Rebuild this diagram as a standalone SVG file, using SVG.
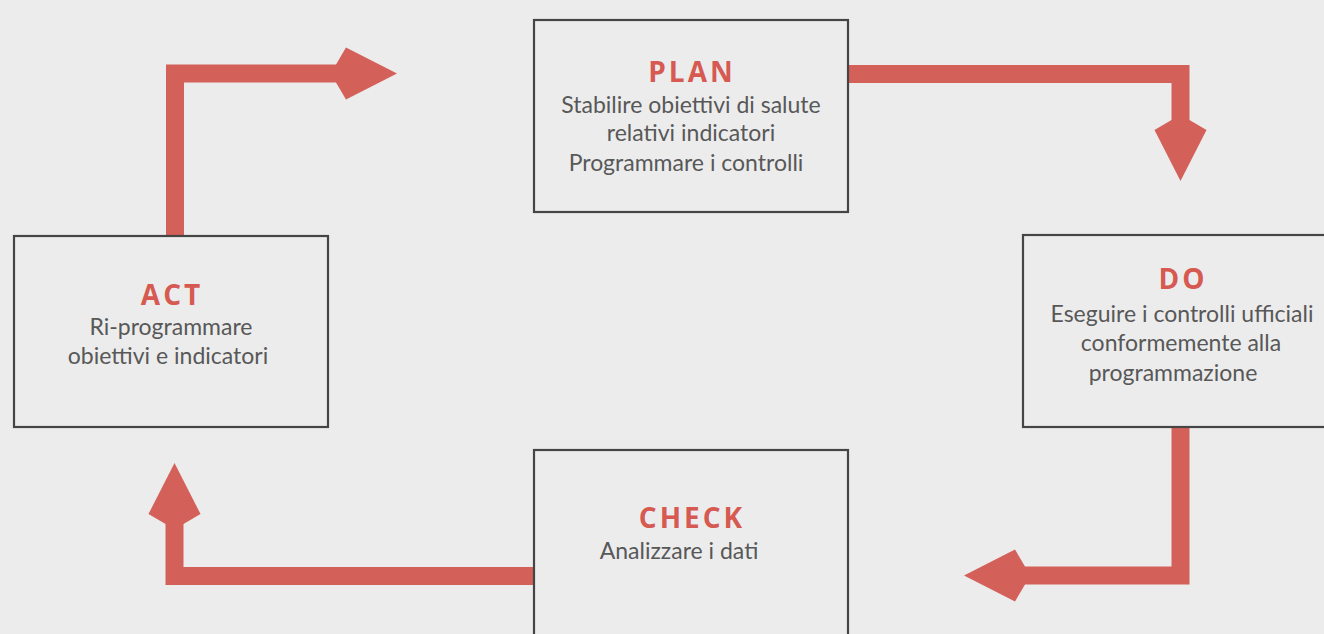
<svg xmlns="http://www.w3.org/2000/svg" width="1324" height="634" viewBox="0 0 1324 634">
  <defs>
    <style>
      .box { fill: #ececec; stroke: #454545; stroke-width: 2.2; }
      .title { font-family: "Open Sans", "Liberation Sans", sans-serif; font-weight: 700; font-size: 28px; fill: #d65a52; text-anchor: middle; letter-spacing: 3px; }
      .body { font-family: Lato, "Open Sans", "Liberation Sans", sans-serif; font-size: 23px; fill: #585858; text-anchor: middle; }
      .conn { fill: none; stroke: #d4605a; stroke-width: 18; stroke-linejoin: miter; stroke-linecap: butt; }
    </style>
    <marker id="head" markerUnits="userSpaceOnUse" viewBox="0 -27 60 54" refX="0" refY="0" markerWidth="60" markerHeight="54" orient="auto" overflow="visible">
      <path d="M-1,-9 L9,-26 L60,0 L9,26 L-1,9 Z" fill="#d4605a"/>
    </marker>
  </defs>
  <rect width="1324" height="634" fill="#ececec"/>

  <g id="connectors">
    <path class="conn" d="M175,236 V73.5 H337" marker-end="url(#head)"/>
    <path class="conn" d="M848,74 H1180.5 V121" marker-end="url(#head)"/>
    <path class="conn" d="M1180.5,428 V575.5 H1024" marker-end="url(#head)"/>
    <path class="conn" d="M534,576 H174.5 V523" marker-end="url(#head)"/>
  </g>

  <g id="plan">
    <rect class="box" x="534" y="20" width="314" height="192"/>
    <text class="title" x="692" y="82">PLAN</text>
    <text class="body" x="691" y="113">Stabilire obiettivi di salute</text>
    <text class="body" x="691" y="141">relativi indicatori</text>
    <text class="body" x="686" y="171">Programmare i controlli</text>
  </g>

  <g id="do">
    <rect class="box" x="1023" y="235" width="320" height="192"/>
    <text class="title" x="1183" y="289">DO</text>
    <text class="body" x="1182" y="322">Eseguire i controlli ufficiali</text>
    <text class="body" x="1181" y="351">conformemente alla</text>
    <text class="body" x="1173" y="381">programmazione</text>
  </g>

  <g id="check">
    <rect class="box" x="534" y="450" width="314" height="200"/>
    <text class="title" x="692" y="528">CHECK</text>
    <text class="body" x="679" y="559">Analizzare i dati</text>
  </g>

  <g id="act">
    <rect class="box" x="14" y="236" width="314" height="191"/>
    <text class="title" x="172" y="305">ACT</text>
    <text class="body" x="171" y="335">Ri-programmare</text>
    <text class="body" x="168" y="364">obiettivi e indicatori</text>
  </g>
</svg>
